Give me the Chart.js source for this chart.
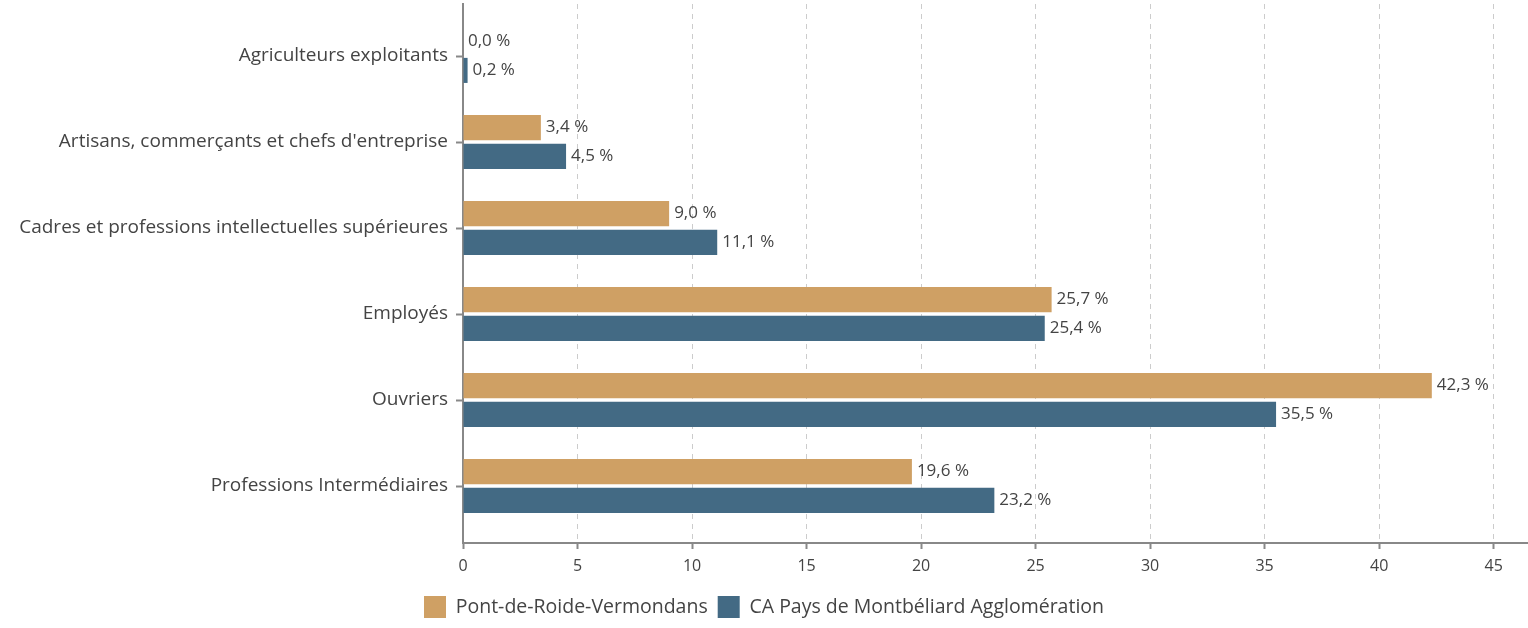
<!DOCTYPE html>
<html>
<head>
<meta charset="utf-8">
<script src="https://cdn.jsdelivr.net/npm/chart.js@4/dist/chart.umd.min.js"></script>
<style>
  html, body { margin: 0; padding: 0; background: #fff; }
  #wrap { width: 1528px; height: 628px; }
</style>
</head>
<body>
<div id="wrap"><canvas id="chart-area"></canvas></div>
<script>
var categories = [
  "Agriculteurs exploitants",
  "Artisans, commerçants et chefs d'entreprise",
  "Cadres et professions intellectuelles supérieures",
  "Employés",
  "Ouvriers",
  "Professions Intermédiaires"
];
var pontValues = [0.0, 3.4, 9.0, 25.7, 42.3, 19.6];
var caValues = [0.2, 4.5, 11.1, 25.4, 35.5, 23.2];
var xTicks = [0, 5, 10, 15, 20, 25, 30, 35, 40, 45];

var fontFamily = "'Open Sans', 'Noto Sans', sans-serif";

function frNumber(v) {
  return v.toFixed(1).replace(".", ",") + " %";
}

// labels after each bar
var valueLabels = {
  id: "valueLabels",
  afterDatasetsDraw: function (chart) {
    var ctx = chart.ctx;
    ctx.save();
    ctx.font = "17px " + fontFamily;
    ctx.fillStyle = "#444";
    ctx.textAlign = "left";
    ctx.textBaseline = "middle";
    chart.data.datasets.forEach(function (ds, i) {
      chart.getDatasetMeta(i).data.forEach(function (bar, j) {
        ctx.fillText(frNumber(ds.data[j]), bar.x + 5, bar.y);
      });
    });
    ctx.restore();
  }
};

// categories sit a little inside the plot area, like the original
var insetCategories = {
  id: "insetCategories",
  afterLayout: function (chart) {
    var y = chart.scales.y;
    y._startPixel = y.top + 9;
    y._endPixel = y.bottom - 14;
    y._length = y._endPixel - y._startPixel;
  }
};

new Chart(document.getElementById("chart-area"), {
  type: "bar",
  data: {
    labels: categories,
    datasets: [
      {
        label: "Pont-de-Roide-Vermondans",
        backgroundColor: "#cfa064",
        data: pontValues,
        categoryPercentage: 0.67,
        barPercentage: 0.87
      },
      {
        label: "CA Pays de Montbéliard Agglomération",
        backgroundColor: "#436a84",
        data: caValues,
        categoryPercentage: 0.67,
        barPercentage: 0.87
      }
    ]
  },
  options: {
    indexAxis: "y",
    responsive: true,
    maintainAspectRatio: false,
    animation: false,
    layout: { padding: { top: 4, right: 0, left: 0, bottom: 0 } },
    plugins: {
      legend: {
        position: "bottom",
        labels: {
          boxWidth: 22,
          boxHeight: 22,
          padding: 10,
          color: "#444",
          font: { family: fontFamily, size: 19.5 }
        }
      },
      tooltip: { enabled: false }
    },
    scales: {
      x: {
        min: 0,
        max: 46.5,
        afterBuildTicks: function (scale) {
          scale.ticks = xTicks.map(function (v) { return { value: v }; });
        },
        afterFit: function (scale) { scale.height = 43; },
        ticks: {
          padding: 8,
          color: "#444",
          font: { family: fontFamily, size: 16 }
        },
        grid: {
          color: "#cccccc",
          lineWidth: 1,
          tickColor: "#888",
          tickLength: 6,
          tickWidth: 2,
          tickBorderDash: []
        },
        border: { color: "#888", width: 2, dash: [5, 5] }
      },
      y: {
        afterFit: function (scale) {
          scale.width = 463;
          scale.paddingTop = 0;
          scale.paddingBottom = 0;
        },
        ticks: {
          padding: 8,
          color: "#444",
          font: { family: fontFamily, size: 19 }
        },
        grid: {
          offset: false,
          drawOnChartArea: false,
          tickColor: "#888",
          tickLength: 7,
          tickWidth: 2
        },
        border: { color: "#888", width: 2 }
      }
    }
  },
  plugins: [valueLabels, insetCategories]
});
</script>
</body>
</html>
